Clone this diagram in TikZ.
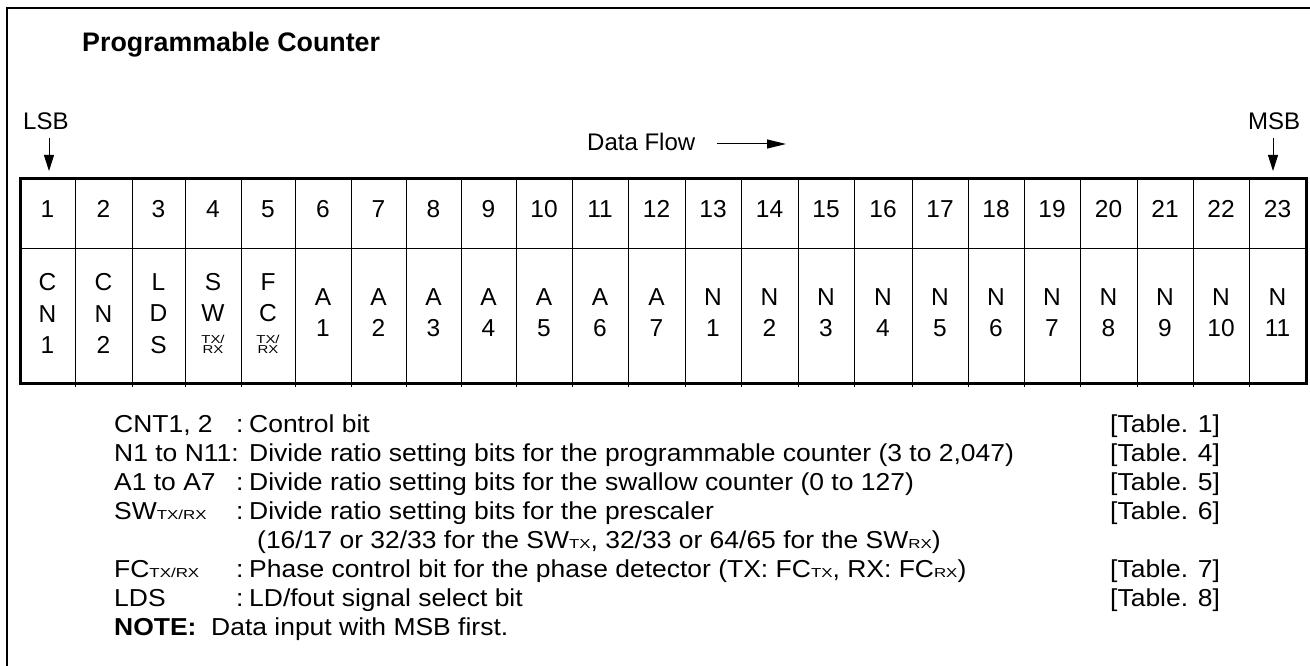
\documentclass[tikz,border=0pt]{standalone}
\usepackage{fontspec}
\setmainfont{Liberation Sans}
\newfontfamily\legendfont[FakeStretch=1.08]{Liberation Sans}
\newfontfamily\tagfont[FakeStretch=1.3]{Liberation Sans}
\usetikzlibrary{arrows.meta}
\newcommand{\subtag}[1]{{\tagfont\fontsize{13}{13}\selectfont #1}}

\begin{document}
\begin{tikzpicture}[x=1pt,y=-1pt,
                numtxt/.style={anchor=base,inner sep=0pt,font=\fontsize{24.5}{24.5}\selectfont},
                bittxt/.style={anchor=center,inner sep=0pt,align=center,font=\fontsize{24.5}{31.3}\selectfont},
                smalltxt/.style={anchor=center,inner sep=0pt,align=center,font=\tagfont\fontsize{11.5}{10.5}\selectfont},
                legtxt/.style={anchor=base west,inner sep=0pt,font=\legendfont\fontsize{24.5}{24.5}\selectfont},
                toptxt/.style={anchor=base west,inner sep=0pt,font=\fontsize{24}{24}\selectfont},
                arr/.style={line width=1pt,-{Triangle[length=16pt,width=10pt]}}]
                \useasboundingbox (0,0) rectangle (1310,666);
                \draw[line width=1.3pt] (7,667) -- (7,8) -- (1311,8);

                \node[anchor=base west,inner sep=0pt,font=\fontsize{26.8}{26.8}\selectfont\bfseries] (title) at (82,52) {Programmable Counter};
                \node[toptxt] (lsb) at (23,130) {LSB};
                \node[toptxt] (msb) at (1248,130) {MSB};
                \node[toptxt] (flow) at (587,151) {Data Flow};

                \coordinate (lsbtop) at (49,138);
                \coordinate (lsbtip) at (49,171);
                \coordinate (msbtop) at (1273,138);
                \coordinate (msbtip) at (1273,171);
                \coordinate (flowstart) at (717,144);
                \coordinate (flowend) at (786,144);
                \draw[arr] (lsbtop) -- (lsbtip);
                \draw[arr] (msbtop) -- (msbtip);
                \draw[line width=1pt,-{Triangle[length=19pt,width=9pt]}] (flowstart) -- (flowend);

                \draw[line width=1pt] (20,248) -- (1306,248);
                \draw[line width=1pt] (75,179) -- (75,387);
                \draw[line width=1pt] (132,179) -- (132,387);
                \draw[line width=1pt] (185,179) -- (185,387);
                \draw[line width=1pt] (241,179) -- (241,387);
                \draw[line width=1pt] (295,179) -- (295,387);
                \draw[line width=1pt] (351,179) -- (351,387);
                \draw[line width=1pt] (406,179) -- (406,387);
                \draw[line width=1pt] (461,179) -- (461,387);
                \draw[line width=1pt] (516,179) -- (516,387);
                \draw[line width=1pt] (572,179) -- (572,387);
                \draw[line width=1pt] (628,179) -- (628,387);
                \draw[line width=1pt] (685,179) -- (685,387);
                \draw[line width=1pt] (741,179) -- (741,387);
                \draw[line width=1pt] (798,179) -- (798,387);
                \draw[line width=1pt] (854,179) -- (854,387);
                \draw[line width=1pt] (912,179) -- (912,387);
                \draw[line width=1pt] (968,179) -- (968,387);
                \draw[line width=1pt] (1024,179) -- (1024,387);
                \draw[line width=1pt] (1080,179) -- (1080,387);
                \draw[line width=1pt] (1137,179) -- (1137,387);
                \draw[line width=1pt] (1193,179) -- (1193,387);
                \draw[line width=1pt] (1249,179) -- (1249,387);
                \draw[line width=3pt] (20,179) rectangle (1306,383);

                \node[numtxt] (n1) at (47.5,218) {1};
                \node[numtxt] (n2) at (103.5,218) {2};
                \node[numtxt] (n3) at (158.5,218) {3};
                \node[numtxt] (n4) at (213,218) {4};
                \node[numtxt] (n5) at (268,218) {5};
                \node[numtxt] (n6) at (323,218) {6};
                \node[numtxt] (n7) at (378.5,218) {7};
                \node[numtxt] (n8) at (433.5,218) {8};
                \node[numtxt] (n9) at (488.5,218) {9};
                \node[numtxt] (n10) at (544,218) {10};
                \node[numtxt] (n11) at (600,218) {11};
                \node[numtxt] (n12) at (656.5,218) {12};
                \node[numtxt] (n13) at (713,218) {13};
                \node[numtxt] (n14) at (769.5,218) {14};
                \node[numtxt] (n15) at (826,218) {15};
                \node[numtxt] (n16) at (883,218) {16};
                \node[numtxt] (n17) at (940,218) {17};
                \node[numtxt] (n18) at (996,218) {18};
                \node[numtxt] (n19) at (1052,218) {19};
                \node[numtxt] (n20) at (1108.5,218) {20};
                \node[numtxt] (n21) at (1165,218) {21};
                \node[numtxt] (n22) at (1221,218) {22};
                \node[numtxt] (n23) at (1277.5,218) {23};

                \node[bittxt] (b1) at (47.5,313.5) {C\\N\\1};
                \node[bittxt] (b2) at (103.5,313.5) {C\\N\\2};
                \node[bittxt] (b3) at (158.5,313.5) {L\\D\\S};
                \node[bittxt] (b4) at (213,297.5) {S\\W};
                \node[smalltxt] (s4) at (213,344.5) {TX/\\RX};
                \node[bittxt] (b5) at (268,297.5) {F\\C};
                \node[smalltxt] (s5) at (268,344.5) {TX/\\RX};
                \node[bittxt] (b6) at (323,312.5) {A\\1};
                \node[bittxt] (b7) at (378.5,312.5) {A\\2};
                \node[bittxt] (b8) at (433.5,312.5) {A\\3};
                \node[bittxt] (b9) at (488.5,312.5) {A\\4};
                \node[bittxt] (b10) at (544,312.5) {A\\5};
                \node[bittxt] (b11) at (600,312.5) {A\\6};
                \node[bittxt] (b12) at (656.5,312.5) {A\\7};
                \node[bittxt] (b13) at (713,312.5) {N\\1};
                \node[bittxt] (b14) at (769.5,312.5) {N\\2};
                \node[bittxt] (b15) at (826,312.5) {N\\3};
                \node[bittxt] (b16) at (883,312.5) {N\\4};
                \node[bittxt] (b17) at (940,312.5) {N\\5};
                \node[bittxt] (b18) at (996,312.5) {N\\6};
                \node[bittxt] (b19) at (1052,312.5) {N\\7};
                \node[bittxt] (b20) at (1108.5,312.5) {N\\8};
                \node[bittxt] (b21) at (1165,312.5) {N\\9};
                \node[bittxt] (b22) at (1221,312.5) {N\\10};
                \node[bittxt] (b23) at (1277.5,312.5) {N\\11};

                \node[legtxt] (k1) at (114,432) {CNT1, 2};
                \node[legtxt] (c1) at (236,432) {:};
                \node[legtxt] (d1) at (249,432) {Control bit};
                \node[legtxt] (t1) at (1110,432) {[Table. 1]};
                \node[legtxt] (k2) at (114,461) {N1 to N11:};
                \node[legtxt] (d2) at (249,461) {Divide ratio setting bits for the programmable counter (3 to 2,047)};
                \node[legtxt] (t2) at (1110,461) {[Table. 4]};
                \node[legtxt] (k3) at (114,490) {A1 to A7};
                \node[legtxt] (c3) at (236,490) {:};
                \node[legtxt] (d3) at (249,490) {Divide ratio setting bits for the swallow counter (0 to 127)};
                \node[legtxt] (t3) at (1110,490) {[Table. 5]};
                \node[legtxt] (k4) at (114,519) {SW\subtag{TX/RX}};
                \node[legtxt] (c4) at (236,519) {:};
                \node[legtxt] (d4) at (249,519) {Divide ratio setting bits for the prescaler};
                \node[legtxt] (t4) at (1110,519) {[Table. 6]};
                \node[legtxt] (d5) at (257,548) {(16/17 or 32/33 for the SW\subtag{TX}, 32/33 or 64/65 for the SW\subtag{RX})};
                \node[legtxt] (k6) at (114,577) {FC\subtag{TX/RX}};
                \node[legtxt] (c6) at (236,577) {:};
                \node[legtxt] (d6) at (249,577) {Phase control bit for the phase detector (TX: FC\subtag{TX}, RX: FC\subtag{RX})};
                \node[legtxt] (t6) at (1110,577) {[Table. 7]};
                \node[legtxt] (k7) at (114,606) {LDS};
                \node[legtxt] (c7) at (236,606) {:};
                \node[legtxt] (d7) at (249,606) {LD/fout signal select bit};
                \node[legtxt] (t7) at (1110,606) {[Table. 8]};
                \node[legtxt] (k8) at (114,635) {\textbf{NOTE:}\ \ Data input with MSB first.};
\end{tikzpicture}
\end{document}
